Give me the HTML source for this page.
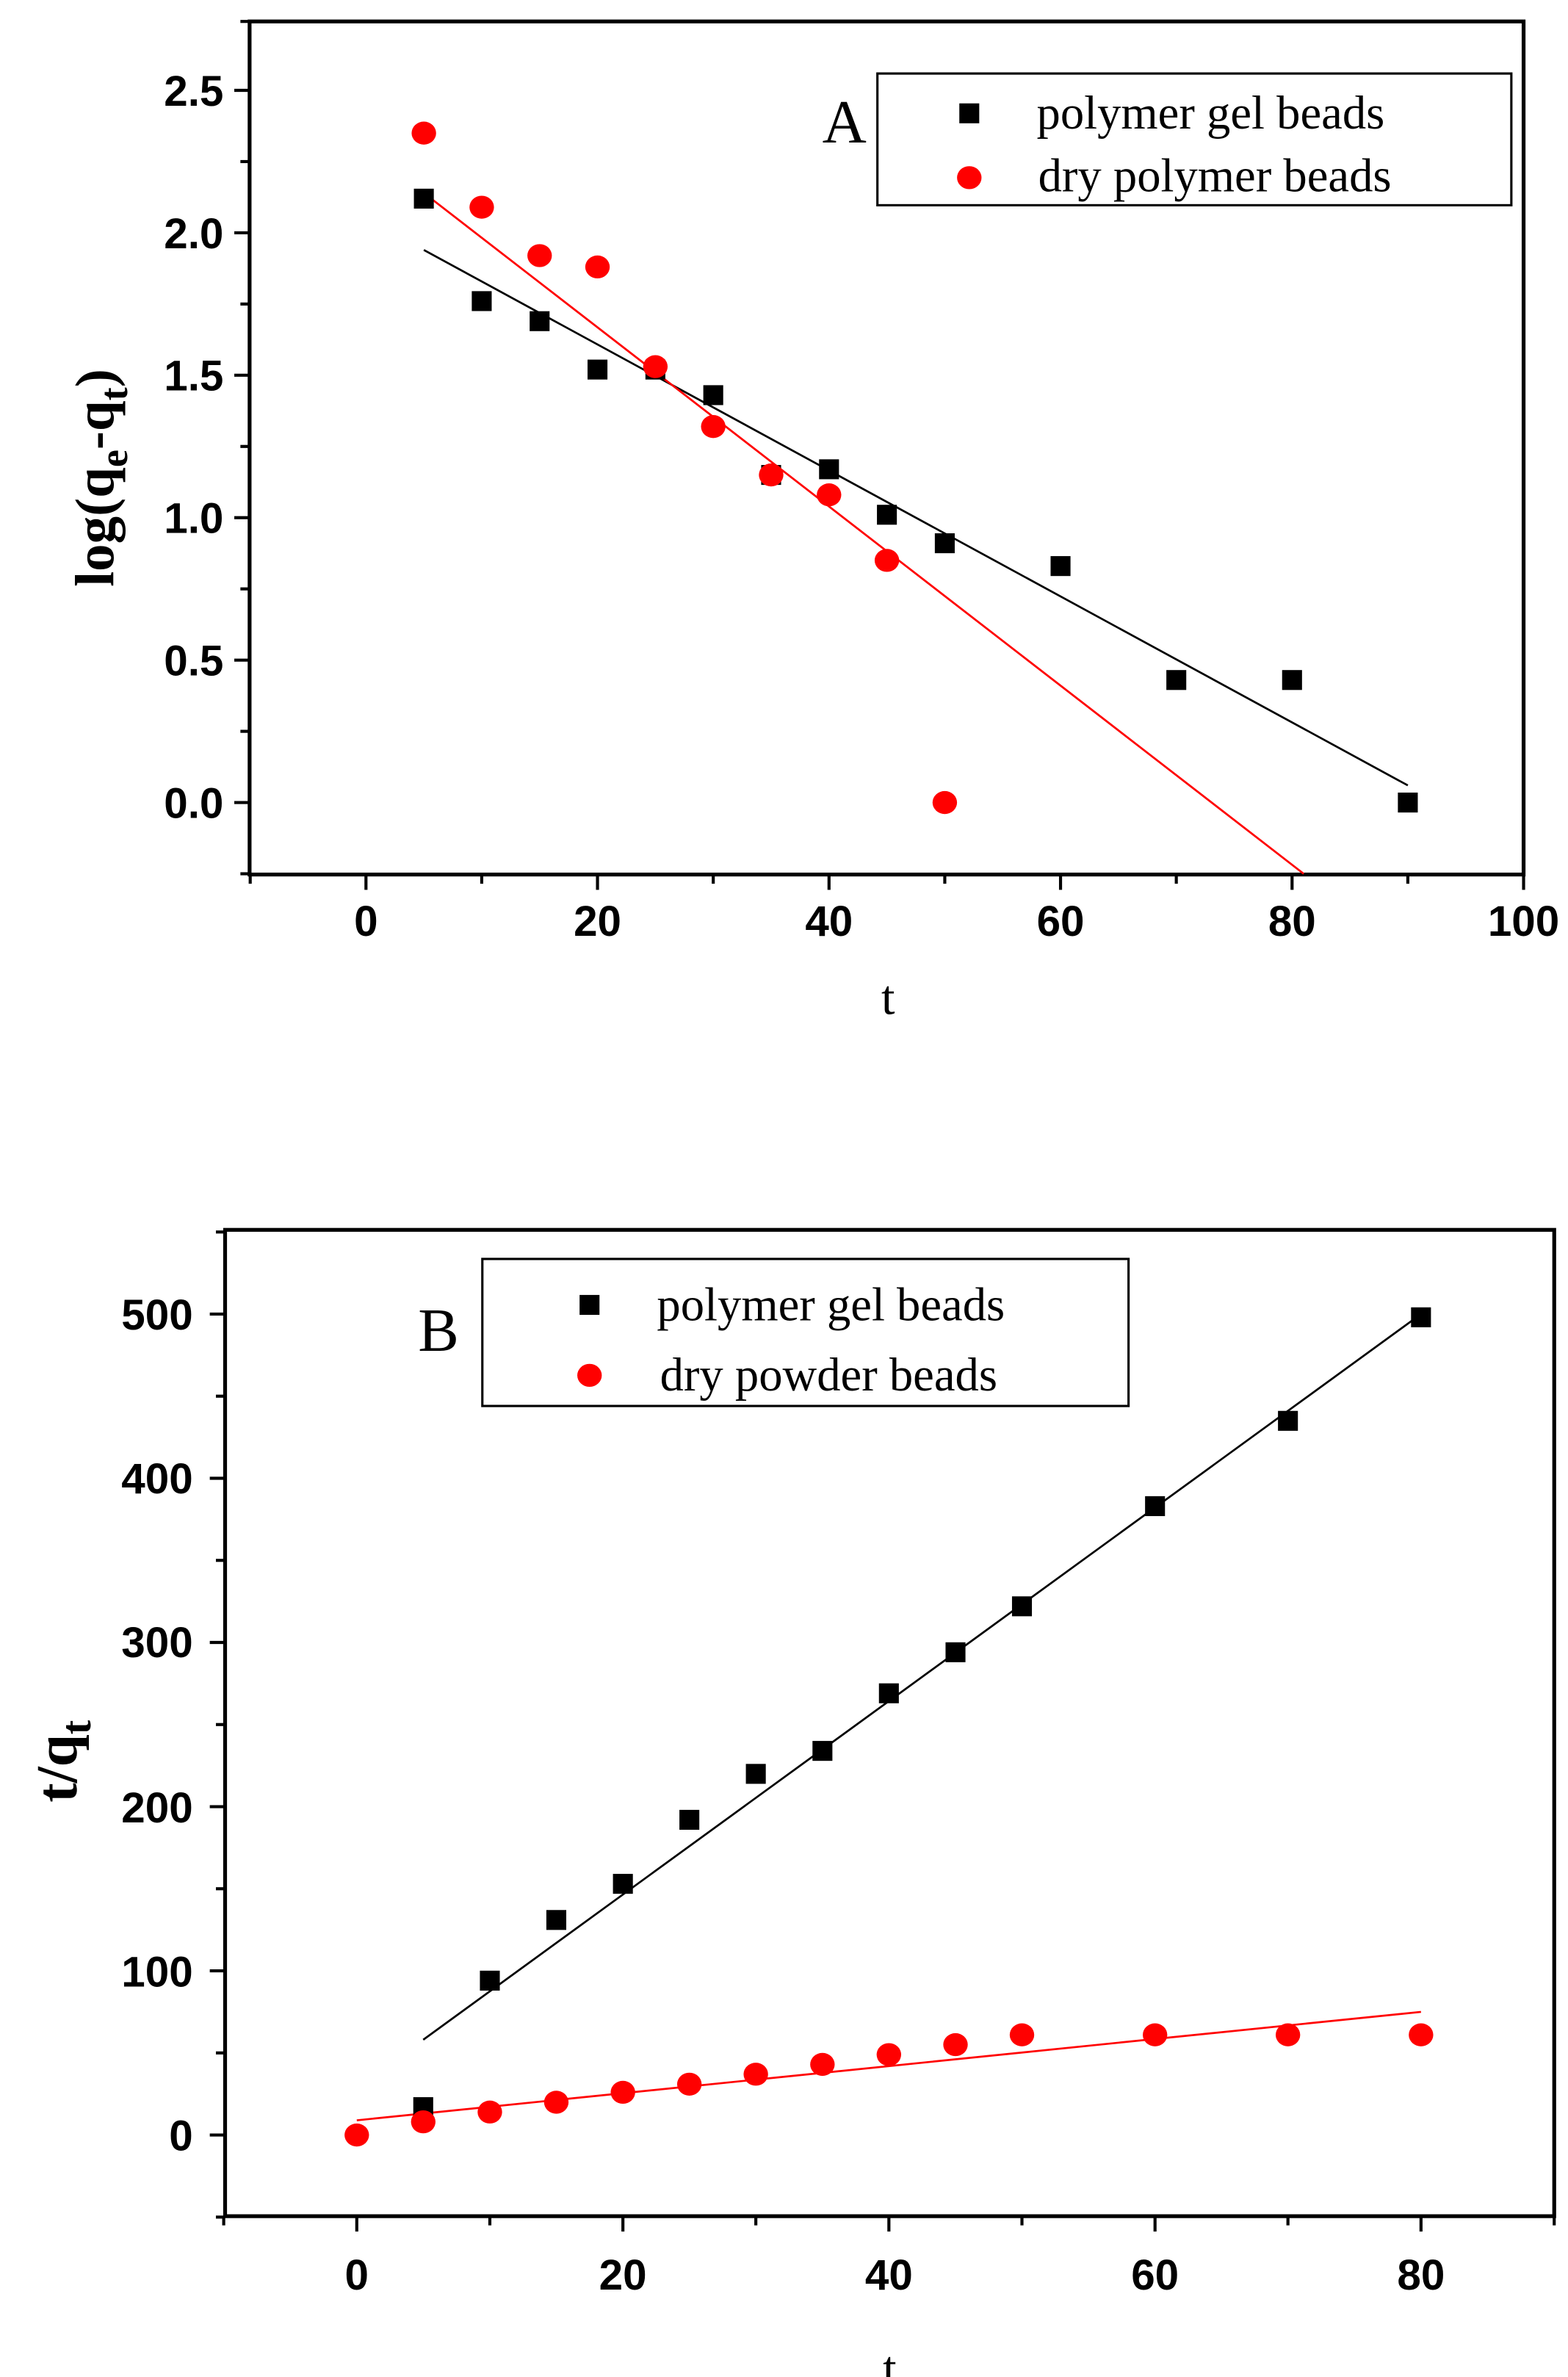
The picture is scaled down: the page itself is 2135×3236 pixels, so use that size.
<!DOCTYPE html>
<html><head><meta charset="utf-8"><style>html,body{margin:0;padding:0;background:#fff}svg{display:block}</style></head>
<body>
<svg width="2135" height="3236" viewBox="0 0 1024 1552" preserveAspectRatio="none" xmlns="http://www.w3.org/2000/svg">
<defs>
<g id="sq"><rect x="-6.5" y="-6.5" width="13" height="13" fill="#000"/></g>
<g id="ci"><ellipse cx="0" cy="0" rx="8" ry="7.5" fill="#f00"/></g>
</defs>
<!-- Chart A -->
<rect x="163" y="14" width="832" height="557" fill="none" stroke="#000" stroke-width="2.5"/>
<g stroke="#000" stroke-width="2">
<line x1="163" y1="59" x2="153" y2="59"/><line x1="163" y1="152" x2="153" y2="152"/><line x1="163" y1="245" x2="153" y2="245"/><line x1="163" y1="338" x2="153" y2="338"/><line x1="163" y1="431" x2="153" y2="431"/><line x1="163" y1="524" x2="153" y2="524"/>
<line x1="163" y1="105.5" x2="157" y2="105.5"/><line x1="163" y1="198.5" x2="157" y2="198.5"/><line x1="163" y1="291.5" x2="157" y2="291.5"/><line x1="163" y1="384.5" x2="157" y2="384.5"/><line x1="163" y1="477.5" x2="157" y2="477.5"/><line x1="163" y1="570.5" x2="157" y2="570.5"/><line x1="163" y1="14" x2="157" y2="14"/>
<line x1="239" y1="571" x2="239" y2="581"/><line x1="390.2" y1="571" x2="390.2" y2="581"/><line x1="541.4" y1="571" x2="541.4" y2="581"/><line x1="692.6" y1="571" x2="692.6" y2="581"/><line x1="843.8" y1="571" x2="843.8" y2="581"/><line x1="995" y1="571" x2="995" y2="581"/>
<line x1="163.4" y1="571" x2="163.4" y2="577"/><line x1="314.6" y1="571" x2="314.6" y2="577"/><line x1="465.8" y1="571" x2="465.8" y2="577"/><line x1="617" y1="571" x2="617" y2="577"/><line x1="768.2" y1="571" x2="768.2" y2="577"/><line x1="919.4" y1="571" x2="919.4" y2="577"/>
</g>
<g font-family="Liberation Sans, sans-serif" font-weight="bold" font-size="28" text-anchor="end">
<text x="146" y="69">2.5</text><text x="146" y="162">2.0</text><text x="146" y="255">1.5</text><text x="146" y="348">1.0</text><text x="146" y="441">0.5</text><text x="146" y="534">0.0</text>
</g>
<g font-family="Liberation Sans, sans-serif" font-weight="bold" font-size="28" text-anchor="middle">
<text x="239" y="611">0</text><text x="390.2" y="611">20</text><text x="541.4" y="611">40</text><text x="692.6" y="611">60</text><text x="843.8" y="611">80</text><text x="995" y="611">100</text>
</g>
<text x="580" y="662" font-family="Liberation Serif, serif" font-size="32" text-anchor="middle">t</text>
<text transform="translate(74,312) rotate(-90)" font-family="Liberation Serif, serif" font-weight="bold" font-size="36" text-anchor="middle">log(q<tspan font-size="26" dy="9">e</tspan><tspan dy="-9">-q</tspan><tspan font-size="26" dy="9">t</tspan><tspan dy="-9">)</tspan></text>
<line x1="276.8" y1="163.2" x2="919.4" y2="512.8" stroke="#000" stroke-width="1.3"/>
<line x1="276.8" y1="126" x2="851.4" y2="570.5" stroke="#f00" stroke-width="1.3"/>
<use href="#sq" x="276.8" y="129.7"/><use href="#sq" x="314.6" y="196.6"/><use href="#sq" x="352.4" y="209.7"/><use href="#sq" x="390.2" y="241.3"/><use href="#sq" x="428" y="241.3"/><use href="#sq" x="465.8" y="258"/><use href="#sq" x="503.6" y="310.1"/><use href="#sq" x="541.4" y="306.4"/><use href="#sq" x="579.2" y="336.1"/><use href="#sq" x="617" y="354.7"/><use href="#sq" x="692.6" y="369.6"/><use href="#sq" x="768.2" y="444"/><use href="#sq" x="843.8" y="444"/><use href="#sq" x="919.4" y="524"/>
<use href="#ci" x="276.8" y="86.9"/><use href="#ci" x="314.6" y="135.3"/><use href="#ci" x="352.4" y="166.9"/><use href="#ci" x="390.2" y="174.3"/><use href="#ci" x="428" y="239.4"/><use href="#ci" x="465.8" y="278.5"/><use href="#ci" x="503.6" y="310.1"/><use href="#ci" x="541.4" y="323.1"/><use href="#ci" x="579.2" y="365.9"/><use href="#ci" x="617" y="524"/>
<text x="537" y="93" font-family="Liberation Serif, serif" font-size="40">A</text>
<rect x="573" y="48" width="414" height="86" fill="#fff" stroke="#000" stroke-width="1.5"/>
<use href="#sq" x="633" y="74"/><use href="#ci" x="633" y="116"/>
<g font-family="Liberation Serif, serif" font-size="31"><text x="677" y="84">polymer gel beads</text><text x="678" y="125">dry polymer beads</text></g>

<!-- Chart B -->
<rect x="147" y="803" width="868" height="644" fill="none" stroke="#000" stroke-width="2.5"/>
<g stroke="#000" stroke-width="2">
<line x1="147" y1="1394" x2="137" y2="1394"/><line x1="147" y1="1286.8" x2="137" y2="1286.8"/><line x1="147" y1="1179.6" x2="137" y2="1179.6"/><line x1="147" y1="1072.4" x2="137" y2="1072.4"/><line x1="147" y1="965.2" x2="137" y2="965.2"/><line x1="147" y1="858" x2="137" y2="858"/>
<line x1="147" y1="1447.6" x2="141" y2="1447.6"/><line x1="147" y1="1340.4" x2="141" y2="1340.4"/><line x1="147" y1="1233.2" x2="141" y2="1233.2"/><line x1="147" y1="1126" x2="141" y2="1126"/><line x1="147" y1="1018.8" x2="141" y2="1018.8"/><line x1="147" y1="911.6" x2="141" y2="911.6"/><line x1="147" y1="804.4" x2="141" y2="804.4"/>
<line x1="233" y1="1447" x2="233" y2="1457"/><line x1="406.8" y1="1447" x2="406.8" y2="1457"/><line x1="580.5" y1="1447" x2="580.5" y2="1457"/><line x1="754.3" y1="1447" x2="754.3" y2="1457"/><line x1="928" y1="1447" x2="928" y2="1457"/>
<line x1="146.1" y1="1447" x2="146.1" y2="1453"/><line x1="319.9" y1="1447" x2="319.9" y2="1453"/><line x1="493.6" y1="1447" x2="493.6" y2="1453"/><line x1="667.4" y1="1447" x2="667.4" y2="1453"/><line x1="841.1" y1="1447" x2="841.1" y2="1453"/><line x1="1015" y1="1447" x2="1015" y2="1453"/>
</g>
<g font-family="Liberation Sans, sans-serif" font-weight="bold" font-size="28" text-anchor="end">
<text x="126" y="1404">0</text><text x="126" y="1297">100</text><text x="126" y="1190">200</text><text x="126" y="1082">300</text><text x="126" y="975">400</text><text x="126" y="868">500</text>
</g>
<g font-family="Liberation Sans, sans-serif" font-weight="bold" font-size="28" text-anchor="middle">
<text x="233" y="1495">0</text><text x="406.8" y="1495">20</text><text x="580.5" y="1495">40</text><text x="754.3" y="1495">60</text><text x="928" y="1495">80</text>
</g>
<text x="581" y="1557" font-family="Liberation Serif, serif" font-size="32" text-anchor="middle">t</text>
<text transform="translate(50,1150) rotate(-90)" font-family="Liberation Serif, serif" font-weight="bold" font-size="38" text-anchor="middle">t/q<tspan font-size="28" dy="9">t</tspan></text>
<line x1="276.4" y1="1331.8" x2="928" y2="858" stroke="#000" stroke-width="1.3"/>
<line x1="233" y1="1384.4" x2="928" y2="1313.6" stroke="#f00" stroke-width="1.3"/>
<use href="#sq" x="276.4" y="1375.8"/><use href="#sq" x="319.9" y="1293.2"/><use href="#sq" x="363.3" y="1253.6"/><use href="#sq" x="406.8" y="1230"/><use href="#sq" x="450.2" y="1188.2"/><use href="#sq" x="493.6" y="1158.2"/><use href="#sq" x="537.1" y="1143.2"/><use href="#sq" x="580.5" y="1105.6"/><use href="#sq" x="624" y="1078.8"/><use href="#sq" x="667.4" y="1048.8"/><use href="#sq" x="754.3" y="983.4"/><use href="#sq" x="841.1" y="927.7"/><use href="#sq" x="928" y="860.1"/>
<use href="#ci" x="233" y="1394"/><use href="#ci" x="276.4" y="1385.4"/><use href="#ci" x="319.9" y="1379"/><use href="#ci" x="363.3" y="1372.6"/><use href="#ci" x="406.8" y="1366.1"/><use href="#ci" x="450.2" y="1360.8"/><use href="#ci" x="493.6" y="1354.3"/><use href="#ci" x="537.1" y="1347.9"/><use href="#ci" x="580.5" y="1341.5"/><use href="#ci" x="624" y="1335"/><use href="#ci" x="667.4" y="1328.6"/><use href="#ci" x="754.3" y="1328.6"/><use href="#ci" x="841.1" y="1328.6"/><use href="#ci" x="928" y="1328.6"/>
<text x="273" y="882" font-family="Liberation Serif, serif" font-size="40">B</text>
<rect x="315" y="822" width="422" height="96" fill="#fff" stroke="#000" stroke-width="1.5"/>
<use href="#sq" x="385" y="852"/><use href="#ci" x="385" y="898"/>
<g font-family="Liberation Serif, serif" font-size="31"><text x="429" y="862">polymer gel beads</text><text x="431" y="908">dry powder beads</text></g>
</svg>
</body></html>
